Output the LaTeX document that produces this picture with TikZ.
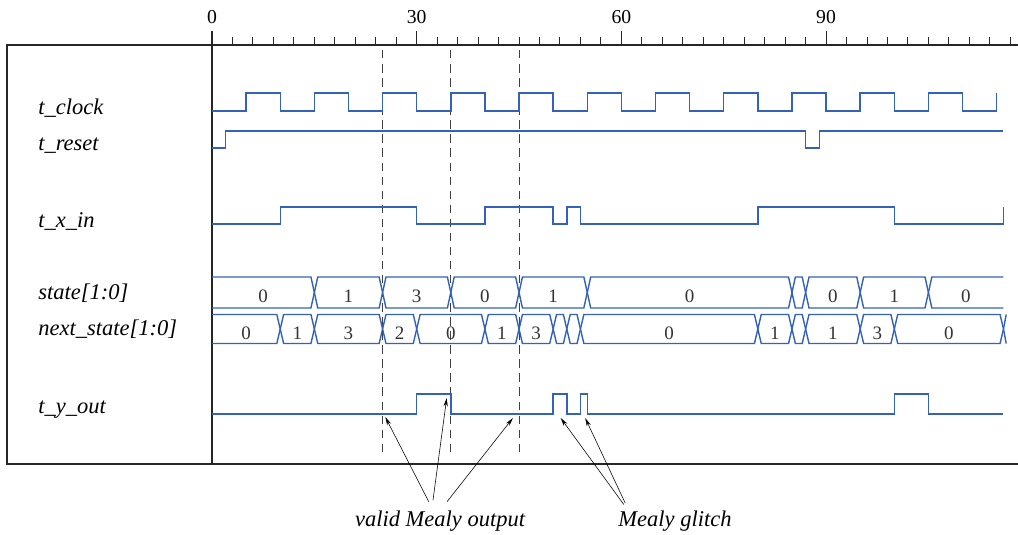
\documentclass[tikz,border=0pt]{standalone}
\usepackage{fontspec}
\setmainfont{Liberation Serif}
\usepackage{tikz}
\usetikzlibrary{arrows.meta}
\definecolor{wavecol}{RGB}{52,98,186}

\begin{document}
\begin{tikzpicture}[x=0.025cm, y=-0.025cm, >={Stealth[length=6pt,width=3pt]},
  wave/.style={wavecol, line width=1pt, line join=miter},
  frame/.style={black!85, line width=1pt},
  tick/.style={black!85, line width=0.7pt},
  sample/.style={black!75, line width=0.7pt, dash pattern=on 6pt off 4pt},
  sig/.style={font=\fontsize{16}{18}\selectfont\itshape, anchor=base west, inner sep=0pt},
  num/.style={font=\fontsize{14}{16}\selectfont, anchor=base, inner sep=0pt},
  busnum/.style={font=\fontsize{13.5}{16}\selectfont, text=black!80, anchor=base, inner sep=0pt},
  note/.style={font=\fontsize{16}{18}\selectfont\itshape, anchor=base, inner sep=1pt}]
  \useasboundingbox (0,0) rectangle (1018,534);

  % --- Frame ---
  \draw[frame] (1018,45) -- (7,45) -- (7,464) -- (1018,464);

  % --- Signal names ---
  \node[sig] (lclock) at (38,114) {t\_clock};
  \node[sig] (lreset) at (38,150) {t\_reset};
  \node[sig] (lxin)   at (38,227) {t\_x\_in};
  \node[sig] (lstate) at (38,299) {state[1:0]};
  \node[sig] (lnext)  at (38,335) {next\_state[1:0]};
  \node[sig] (lyout)  at (38,413) {t\_y\_out};

  \begin{scope}[shift={(212,0)}, xscale=6.823]
    % --- Time axis ---
    \draw[frame] (0,31) -- (0,464);
    \foreach \tm in {3,6,...,117} \draw[tick] (\tm,37) -- (\tm,45);
    \foreach \tm in {30,60,90} \draw[tick] (\tm,31) -- (\tm,45);
    \foreach \tm in {0,30,60,90} \node[num] (ax\tm) at (\tm,23.5) {\tm};

    % --- Sampling instants ---
    \foreach \tm in {25,35,45} \draw[sample] (\tm,50) -- (\tm,453);

    % --- t_clock ---
    \draw[wave] (0,111) \foreach \k in {0,...,10} {
        -- ({10*\k+5},111) -- ({10*\k+5},93) -- ({10*\k+10},93) -- ({10*\k+10},111) }
      -- (115,111) -- (115,93);

    % --- t_reset ---
    \draw[wave] (0,148) -- (2,148) -- (2,131) -- (87,131) -- (87,148) -- (89,148)
      -- (89,131) -- (116,131);

    % --- t_x_in ---
    \draw[wave] (0,224) -- (10,224) -- (10,207) -- (30,207) -- (30,224) -- (40,224)
      -- (40,207) -- (50,207) -- (50,224) -- (52,224) -- (52,207) -- (54,207)
      -- (54,224) -- (80,224) -- (80,207) -- (100,207) -- (100,224) -- (116,224)
      -- (116,207);

    % --- state[1:0] ---
    \draw[wave] (0,277) -- (14.5,277) -- (15,292.5) -- (14.5,308) -- (0,308);
    \node[busnum] (st0) at (7.5,302.5) {0};
    \foreach \a/\b/\v [count=\i] in {15/25/1, 25/35/3, 35/45/0, 45/55/1, 55/85/0,
        85/87/{}, 87/95/0, 95/105/1} {
      \draw[wave] (\a,292.5) -- ({\a+0.5},277) -- ({\b-0.5},277) -- (\b,292.5)
        -- ({\b-0.5},308) -- ({\a+0.5},308) -- cycle;
      \node[busnum] (st\i) at ({(\a+\b)/2},302.5) {\v};
    }
    \draw[wave] (116,277) -- (105.5,277) -- (105,292.5) -- (105.5,308) -- (116,308);
    \node[busnum] (st9) at (110.5,302.5) {0};

    % --- next_state[1:0] ---
    \draw[wave] (0,314.5) -- (9.5,314.5) -- (10,329) -- (9.5,343.5) -- (0,343.5);
    \node[busnum] (ns0) at (5,339) {0};
    \foreach \a/\b/\v [count=\i] in {10/15/1, 15/25/3, 25/30/2, 30/40/0, 40/45/1,
        45/50/3, 50/52/{}, 52/54/{}, 54/80/0, 80/85/1, 85/87/{}, 87/95/1, 95/100/3,
        100/116/0} {
      \draw[wave] (\a,329) -- ({\a+0.5},314.5) -- ({\b-0.5},314.5) -- (\b,329)
        -- ({\b-0.5},343.5) -- ({\a+0.5},343.5) -- cycle;
      \node[busnum] (ns\i) at ({(\a+\b)/2},339) {\v};
    }
    \draw[wave] (116.4,314.5) -- (116,329) -- (116.4,343.5);

    % --- t_y_out ---
    \draw[wave] (0,414) -- (30,414) -- (30,394) -- (35,394) -- (35,414) -- (50,414)
      -- (50,394) -- (52,394) -- (52,414) -- (54,414) -- (54,394) -- (55,394)
      -- (55,414) -- (100,414) -- (100,394) -- (105,394) -- (105,414) -- (116,414);

    % arrow targets
    \coordinate (v1) at (25.4,417);
    \coordinate (v2) at (34.4,398);
    \coordinate (v3) at (44.1,418);
    \coordinate (g1) at (51.1,418);
    \coordinate (g2) at (54.7,418);
  \end{scope}

  % --- Annotations ---
  \node[note] (valid) at (440,526) {valid Mealy output};
  \node[note] (glitch) at (675,526) {Mealy glitch};
  \draw[->, thin] ([xshift=-8pt,yshift=5pt]valid.north) -- (v1);
  \draw[->, thin] ([xshift=-5pt,yshift=6pt]valid.north) -- (v2);
  \draw[->, thin] ([xshift=5pt,yshift=5pt]valid.north) -- (v3);
  \draw[->, thin] ([xshift=5pt,yshift=3pt]glitch.north west) -- (g1);
  \draw[->, thin] ([xshift=6pt,yshift=4pt]glitch.north west) -- (g2);
\end{tikzpicture}
\end{document}
